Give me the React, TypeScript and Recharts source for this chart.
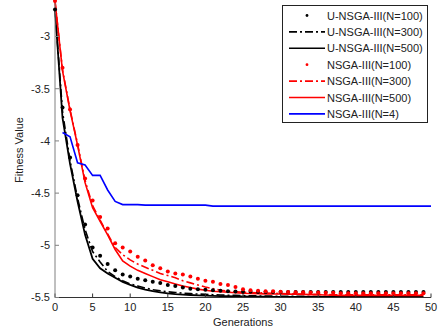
import { CartesianGrid, Line, LineChart, XAxis, YAxis } from "recharts";

const generations = [
  0, 1, 2, 3, 4, 5, 6, 7, 8, 9, 10, 11, 12, 13, 14, 15, 16, 17, 18, 19, 20, 21, 22, 23, 24, 25,
  26, 27, 28, 29, 30, 31, 32, 33, 34, 35, 36, 37, 38, 39, 40, 41, 42, 43, 44, 45, 46, 47, 48,
  49, 50,
];

// U-NSGA-III
const uN100 = [
  -2.74, -3.68, -4.16, -4.52, -4.8, -5.02, -5.1, -5.18, -5.24, -5.28,
  -5.3, -5.32, -5.335, -5.35, -5.36, -5.38, -5.39, -5.405, -5.415, -5.42,
  -5.425, -5.43, -5.435, -5.44, -5.442, -5.445, -5.446, -5.447, -5.448, -5.448,
  -5.448, -5.448, -5.448, -5.448, -5.448, -5.448, -5.448, -5.448, -5.448, -5.448,
  -5.448, -5.448, -5.448, -5.448, -5.448, -5.448, -5.448, -5.448, -5.448, -5.448,
  null,
];
const uN300 = [
  -2.74, -3.72, -4.19, -4.55, -4.85, -5.06, -5.16, -5.25, -5.3, -5.34,
  -5.37, -5.39, -5.41, -5.425, -5.435, -5.445, -5.452, -5.458, -5.463, -5.467,
  -5.47, -5.473, -5.476, -5.478, -5.48, -5.482, -5.484, -5.485, -5.486, -5.487,
  -5.488, -5.488, -5.489, -5.489, -5.49, -5.49, -5.49, -5.49, -5.49, -5.49,
  -5.49, -5.49, -5.49, -5.49, -5.49, -5.49, -5.49, -5.49, -5.49, -5.49,
  null,
];
const uN500 = [
  -2.74, -3.78, -4.22, -4.58, -4.9, -5.13, -5.22, -5.27, -5.31, -5.35,
  -5.38, -5.405, -5.425, -5.44, -5.45, -5.46, -5.467, -5.472, -5.476, -5.479,
  -5.482, -5.484, -5.486, -5.488, -5.489, -5.49, -5.491, -5.492, -5.493, -5.494,
  -5.495, -5.495, -5.495, -5.495, -5.495, -5.495, -5.495, -5.495, -5.495, -5.495,
  -5.495, -5.495, -5.495, -5.495, -5.495, -5.495, -5.495, -5.495, -5.495, -5.495,
  null,
];

// NSGA-III
const nN100 = [
  -2.66, -3.3, -3.7, -4.04, -4.36, -4.57, -4.73, -4.84, -4.98, -5.02,
  -5.06, -5.11, -5.146, -5.19, -5.22, -5.25, -5.27, -5.28, -5.3, -5.32,
  -5.34, -5.35, -5.37, -5.38, -5.4, -5.42, -5.43, -5.435, -5.44, -5.44,
  -5.445, -5.448, -5.45, -5.45, -5.452, -5.452, -5.454, -5.454, -5.46, -5.46,
  -5.46, -5.46, -5.46, -5.46, -5.46, -5.46, -5.46, -5.46, -5.46, -5.46,
  null,
];
const nN300 = [
  -2.66, -3.32, -3.7, -4.03, -4.38, -4.62, -4.76, -4.89, -5.02, -5.09,
  -5.14, -5.18, -5.21, -5.24, -5.27, -5.29, -5.31, -5.34, -5.36, -5.38,
  -5.4, -5.415, -5.43, -5.44, -5.445, -5.45, -5.452, -5.455, -5.457, -5.46,
  -5.462, -5.464, -5.466, -5.468, -5.47, -5.47, -5.472, -5.473, -5.474, -5.475,
  -5.475, -5.475, -5.475, -5.475, -5.475, -5.475, -5.475, -5.475, -5.475, -5.475,
  null,
];
const nN500 = [
  -2.66, -3.33, -3.71, -4.04, -4.4, -4.64, -4.77, -4.9, -5.04, -5.15,
  -5.2, -5.24, -5.27, -5.3, -5.33, -5.35, -5.37, -5.39, -5.405, -5.42,
  -5.43, -5.44, -5.445, -5.45, -5.455, -5.46, -5.462, -5.464, -5.465, -5.466,
  -5.467, -5.468, -5.469, -5.47, -5.472, -5.474, -5.476, -5.478, -5.48, -5.48,
  -5.48, -5.48, -5.48, -5.48, -5.48, -5.48, -5.48, -5.48, -5.48, -5.48,
  null,
];
const nN4 = [
  null, -3.92, -3.96, -4.21, -4.23, -4.33, -4.33, -4.47, -4.58, -4.61,
  -4.61, -4.61, -4.615, -4.615, -4.615, -4.615, -4.615, -4.615, -4.615, -4.615,
  -4.615, -4.625, -4.625, -4.625, -4.625, -4.625, -4.625, -4.625, -4.625, -4.625,
  -4.625, -4.625, -4.625, -4.625, -4.625, -4.625, -4.625, -4.625, -4.625, -4.625,
  -4.625, -4.625, -4.625, -4.625, -4.625, -4.625, -4.625, -4.625, -4.625, -4.625,
  -4.625,
];

const xTicks = [0, 5, 10, 15, 20, 25, 30, 35, 40, 45, 50];
const yTicks = [-5.5, -5, -4.5, -4, -3.5, -3];

const legendItems = [
  { name: "U-NSGA-III(N=100)", color: "#000", kind: "dot" },
  { name: "U-NSGA-III(N=300)", color: "#000", kind: "dashdot" },
  { name: "U-NSGA-III(N=500)", color: "#000", kind: "solid" },
  { name: "NSGA-III(N=100)", color: "#ff0000", kind: "dot" },
  { name: "NSGA-III(N=300)", color: "#ff0000", kind: "dashdot" },
  { name: "NSGA-III(N=500)", color: "#ff0000", kind: "solid" },
  { name: "NSGA-III(N=4)", color: "#0000ff", kind: "solid" },
];

const FONT = '"Liberation Sans", Arial, sans-serif';
const DASHDOT = "8 3 2 3";

const data = generations.map((g, i) => ({
  g,
  uN100: uN100[i],
  uN300: uN300[i],
  uN500: uN500[i],
  nN100: nN100[i],
  nN300: nN300[i],
  nN500: nN500[i],
  nN4: nN4[i],
}));

function LegendBox() {
  return (
    <div
      style={{
        position: "absolute",
        left: 282,
        top: 5,
        width: 146,
        height: 118,
        boxSizing: "border-box",
        border: "1px solid #222",
        background: "#fff",
      }}
    >
      <svg width={144} height={116} style={{ display: "block" }}>
        {legendItems.map((item, i) => {
          const y = 9.5 + i * 16.4;
          return (
            <g key={item.name}>
              {item.kind === "dot" ? (
                <circle cx={24} cy={y} r={1.4} fill={item.color} />
              ) : (
                <line
                  x1={6}
                  x2={42}
                  y1={y}
                  y2={y}
                  stroke={item.color}
                  strokeWidth={1.6}
                  strokeDasharray={item.kind === "dashdot" ? DASHDOT : undefined}
                />
              )}
              <text
                x={44}
                y={y}
                dominantBaseline="central"
                fontSize={11}
                fontFamily={FONT}
                fill="#222"
              >
                {item.name}
              </text>
            </g>
          );
        })}
      </svg>
    </div>
  );
}

export default function App() {
  const tick = { fontSize: 11, fill: "#222", fontFamily: FONT };
  return (
    <div
      style={{
        position: "absolute",
        left: 0,
        top: 0,
        width: 440,
        height: 335,
        background: "#fff",
      }}
    >
      <LineChart
        width={440}
        height={335}
        data={data}
        margin={{ top: 0, right: 9, bottom: 0, left: 0 }}
      >
        <CartesianGrid stroke="none" />
        <XAxis
          dataKey="g"
          type="number"
          domain={[0, 50]}
          ticks={xTicks}
          height={37.5}
          tickSize={-4}
          tickMargin={10}
          stroke="#333"
          tick={tick}
          label={{
            value: "Generations",
            position: "insideBottom",
            offset: 9,
            fontSize: 11,
            fill: "#222",
            fontFamily: FONT,
          }}
        />
        <YAxis
          type="number"
          domain={[-5.5, -2.65]}
          allowDataOverflow
          ticks={yTicks}
          width={55}
          tickSize={-4}
          tickMargin={9}
          stroke="#808080"
          tick={tick}
          label={{
            content: () => (
              <text
                x={19}
                y={150}
                transform="rotate(-90 19 150)"
                textAnchor="middle"
                dominantBaseline="central"
                fontSize={11}
                fontFamily={FONT}
                fill="#222"
              >
                Fitness Value
              </text>
            ),
          }}
        />
        <Line
          dataKey="uN100"
          stroke="none"
          dot={{ r: 2, fill: "#000", stroke: "none" }}
          isAnimationActive={false}
        />
        <Line
          dataKey="uN300"
          stroke="#000"
          strokeWidth={1.6}
          strokeDasharray={DASHDOT}
          dot={false}
          isAnimationActive={false}
        />
        <Line
          dataKey="uN500"
          stroke="#000"
          strokeWidth={1.8}
          dot={false}
          isAnimationActive={false}
        />
        <Line
          dataKey="nN100"
          stroke="none"
          dot={{ r: 2, fill: "#ff0000", stroke: "none" }}
          isAnimationActive={false}
        />
        <Line
          dataKey="nN300"
          stroke="#ff0000"
          strokeWidth={1.6}
          strokeDasharray={DASHDOT}
          dot={false}
          isAnimationActive={false}
        />
        <Line
          dataKey="nN500"
          stroke="#ff0000"
          strokeWidth={1.6}
          dot={false}
          isAnimationActive={false}
        />
        <Line
          dataKey="nN4"
          stroke="#0000ff"
          strokeWidth={1.6}
          dot={false}
          isAnimationActive={false}
        />
      </LineChart>
      <LegendBox />
    </div>
  );
}
